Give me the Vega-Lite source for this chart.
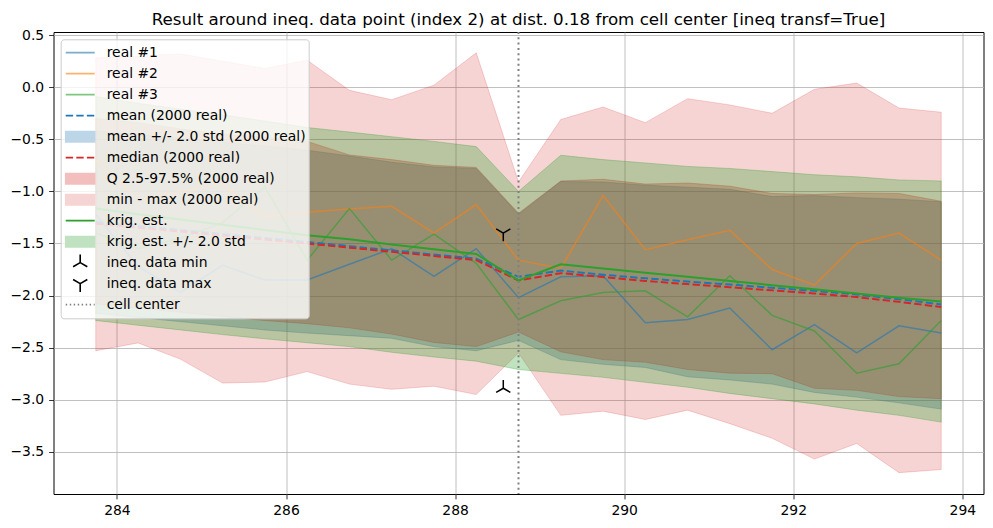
{
  "$schema": "https://vega.github.io/schema/vega-lite/v6.json",
  "width": 930,
  "height": 462,
  "autosize": {"type": "none"},
  "padding": {"left": 53.5, "top": 32, "right": 9.5, "bottom": 34},
  "title": {
    "text": "Result around ineq. data point (index 2) at dist. 0.18 from cell center [ineq transf=True]",
    "font": "DejaVu Sans", "fontSize": 16.7, "fontWeight": "normal", "color": "black",
    "anchor": "middle", "frame": "group", "baseline": "alphabetic", "offset": 8, "dy": 22
  },
  "config": {
    "font": "DejaVu Sans",
    "view": {"stroke": "black", "strokeWidth": 1},
    "axis": {
      "grid": true, "gridColor": "#b0b0b0", "gridWidth": 0.8, "domain": false,
      "tickColor": "black", "tickSize": 4.9, "tickWidth": 0.8,
      "labelFont": "DejaVu Sans", "labelFontSize": 13.9, "labelColor": "black", "labelPadding": 4.9,
      "title": null, "zindex": 1
    }
  },
  "datasets": {
    "main": [
      {"x": 283.75, "r1": -1.22, "r2": -0.70, "r3": -1.40, "mean": -1.295, "median": -1.31, "mlo": -2.17, "mhi": -0.42, "qlo": -2.08, "qhi": -0.30, "mnlo": -2.53, "mnhi": 0.28, "kest": -1.165, "klo": -2.24, "khi": -0.09},
      {"x": 284.25, "r1": -1.72, "r2": -1.08, "r3": -1.55, "mean": -1.333, "median": -1.348, "mlo": -2.21, "mhi": -0.455, "qlo": -2.12, "qhi": -0.34, "mnlo": -2.455, "mnhi": 0.30, "kest": -1.22, "klo": -2.285, "khi": -0.155},
      {"x": 284.75, "r1": -1.97, "r2": -1.00, "r3": -1.45, "mean": -1.371, "median": -1.386, "mlo": -2.25, "mhi": -0.49, "qlo": -2.16, "qhi": -0.40, "mnlo": -2.61, "mnhi": 0.32, "kest": -1.27, "klo": -2.33, "khi": -0.21},
      {"x": 285.25, "r1": -1.71, "r2": -0.93, "r3": -1.30, "mean": -1.41, "median": -1.425, "mlo": -2.29, "mhi": -0.53, "qlo": -2.20, "qhi": -0.45, "mnlo": -2.84, "mnhi": 0.25, "kest": -1.32, "klo": -2.375, "khi": -0.265},
      {"x": 285.75, "r1": -1.85, "r2": -1.245, "r3": -0.957, "mean": -1.448, "median": -1.463, "mlo": -2.33, "mhi": -0.565, "qlo": -2.24, "qhi": -0.48, "mnlo": -2.83, "mnhi": 0.18, "kest": -1.37, "klo": -2.415, "khi": -0.325},
      {"x": 286.25, "r1": -1.85, "r2": -1.20, "r3": -1.66, "mean": -1.486, "median": -1.50, "mlo": -2.36, "mhi": -0.605, "qlo": -2.27, "qhi": -0.52, "mnlo": -2.73, "mnhi": 0.26, "kest": -1.42, "klo": -2.453, "khi": -0.387},
      {"x": 286.75, "r1": -1.70, "r2": -1.17, "r3": -1.165, "mean": -1.526, "median": -1.54, "mlo": -2.385, "mhi": -0.66, "qlo": -2.31, "qhi": -0.65, "mnlo": -2.85, "mnhi": -0.03, "kest": -1.46, "klo": -2.49, "khi": -0.43},
      {"x": 287.25, "r1": -1.55, "r2": -1.143, "r3": -1.66, "mean": -1.566, "median": -1.58, "mlo": -2.41, "mhi": -0.72, "qlo": -2.37, "qhi": -0.695, "mnlo": -2.90, "mnhi": -0.12, "kest": -1.51, "klo": -2.545, "khi": -0.475},
      {"x": 287.75, "r1": -1.815, "r2": -1.40, "r3": -1.41, "mean": -1.606, "median": -1.62, "mlo": -2.49, "mhi": -0.765, "qlo": -2.45, "qhi": -0.75, "mnlo": -2.87, "mnhi": 0.02, "kest": -1.555, "klo": -2.59, "khi": -0.52},
      {"x": 288.25, "r1": -1.55, "r2": -1.127, "r3": -1.69, "mean": -1.646, "median": -1.66, "mlo": -2.53, "mhi": -0.78, "qlo": -2.49, "qhi": -0.77, "mnlo": -2.95, "mnhi": 0.33, "kest": -1.60, "klo": -2.63, "khi": -0.57},
      {"x": 288.75, "r1": -2.02, "r2": -1.66, "r3": -2.23, "mean": -1.82, "median": -1.855, "mlo": -2.43, "mhi": -1.22, "qlo": -2.35, "qhi": -1.21, "mnlo": -2.55, "mnhi": -0.91, "kest": -1.855, "klo": -2.71, "khi": -1.0},
      {"x": 289.25, "r1": -1.82, "r2": -1.74, "r3": -2.05, "mean": -1.76, "median": -1.785, "mlo": -2.615, "mhi": -0.905, "qlo": -2.54, "qhi": -0.90, "mnlo": -3.15, "mnhi": -0.31, "kest": -1.70, "klo": -2.747, "khi": -0.653},
      {"x": 289.75, "r1": -1.81, "r2": -1.04, "r3": -1.97, "mean": -1.80, "median": -1.822, "mlo": -2.66, "mhi": -0.91, "qlo": -2.615, "qhi": -0.884, "mnlo": -3.11, "mnhi": -0.19, "kest": -1.74, "klo": -2.785, "khi": -0.695},
      {"x": 290.25, "r1": -2.26, "r2": -1.56, "r3": -1.955, "mean": -1.835, "median": -1.86, "mlo": -2.69, "mhi": -0.94, "qlo": -2.64, "qhi": -0.93, "mnlo": -3.19, "mnhi": -0.34, "kest": -1.78, "klo": -2.833, "khi": -0.727},
      {"x": 290.75, "r1": -2.23, "r2": -1.465, "r3": -2.205, "mean": -1.865, "median": -1.89, "mlo": -2.78, "mhi": -0.96, "qlo": -2.71, "qhi": -0.92, "mnlo": -3.10, "mnhi": -0.11, "kest": -1.82, "klo": -2.88, "khi": -0.76},
      {"x": 291.25, "r1": -2.12, "r2": -1.374, "r3": -1.81, "mean": -1.895, "median": -1.92, "mlo": -2.81, "mhi": -0.98, "qlo": -2.745, "qhi": -0.95, "mnlo": -3.23, "mnhi": -0.17, "kest": -1.86, "klo": -2.94, "khi": -0.78},
      {"x": 291.75, "r1": -2.52, "r2": -1.75, "r3": -2.19, "mean": -1.925, "median": -1.95, "mlo": -2.85, "mhi": -1.05, "qlo": -2.75, "qhi": -1.02, "mnlo": -3.37, "mnhi": -0.25, "kest": -1.90, "klo": -2.99, "khi": -0.81},
      {"x": 292.25, "r1": -2.28, "r2": -1.90, "r3": -2.34, "mean": -1.955, "median": -1.98, "mlo": -2.93, "mhi": -1.04, "qlo": -2.89, "qhi": -1.03, "mnlo": -3.57, "mnhi": -0.02, "kest": -1.94, "klo": -3.04, "khi": -0.84},
      {"x": 292.75, "r1": -2.55, "r2": -1.50, "r3": -2.745, "mean": -1.99, "median": -2.015, "mlo": -2.975, "mhi": -1.06, "qlo": -2.91, "qhi": -1.015, "mnlo": -3.42, "mnhi": 0.04, "kest": -1.98, "klo": -3.10, "khi": -0.86},
      {"x": 293.25, "r1": -2.29, "r2": -1.40, "r3": -2.655, "mean": -2.035, "median": -2.06, "mlo": -3.03, "mhi": -1.075, "qlo": -2.97, "qhi": -1.02, "mnlo": -3.70, "mnhi": -0.20, "kest": -2.02, "klo": -3.15, "khi": -0.89},
      {"x": 293.75, "r1": -2.36, "r2": -1.66, "r3": -2.24, "mean": -2.085, "median": -2.11, "mlo": -3.09, "mhi": -1.10, "qlo": -2.99, "qhi": -1.095, "mnlo": -3.67, "mnhi": -0.24, "kest": -2.056, "klo": -3.215, "khi": -0.90}
    ],
    "ineqmin": [{"x": 288.57, "y": -2.89}],
    "ineqmax": [{"x": 288.57, "y": -1.40}],
    "cell": [{"x": 288.75}]
  },
  "layer": [
    {
      "data": {"name": "main"},
      "mark": {"type": "area", "color": "#1f77b4", "fillOpacity": 0.3, "stroke": "#1f77b4", "strokeOpacity": 0.3, "strokeWidth": 1},
      "encoding": {
        "x": {"field": "x", "type": "quantitative", "scale": {"domain": [283.25, 294.25], "nice": false, "zero": false},
              "axis": {"values": [284, 286, 288, 290, 292, 294], "format": "d"}},
        "y": {"field": "mlo", "type": "quantitative", "scale": {"domain": [-3.905, 0.53], "nice": false, "zero": false},
              "axis": {"values": [-3.5, -3.0, -2.5, -2.0, -1.5, -1.0, -0.5, 0.0, 0.5], "format": ".1f"}},
        "y2": {"field": "mhi"}
      }
    },
    {
      "data": {"name": "main"},
      "mark": {"type": "area", "color": "#d62728", "fillOpacity": 0.3, "stroke": "#d62728", "strokeOpacity": 0.3, "strokeWidth": 1},
      "encoding": {
        "x": {"field": "x", "type": "quantitative"},
        "y": {"field": "qlo", "type": "quantitative"},
        "y2": {"field": "qhi"}
      }
    },
    {
      "data": {"name": "main"},
      "mark": {"type": "area", "color": "#d62728", "fillOpacity": 0.2, "stroke": "#d62728", "strokeOpacity": 0.2, "strokeWidth": 1},
      "encoding": {
        "x": {"field": "x", "type": "quantitative"},
        "y": {"field": "mnlo", "type": "quantitative"},
        "y2": {"field": "mnhi"}
      }
    },
    {
      "data": {"name": "main"},
      "mark": {"type": "area", "color": "#2ca02c", "fillOpacity": 0.3, "stroke": "#2ca02c", "strokeOpacity": 0.3, "strokeWidth": 1},
      "encoding": {
        "x": {"field": "x", "type": "quantitative"},
        "y": {"field": "klo", "type": "quantitative"},
        "y2": {"field": "khi"}
      }
    },
    {
      "data": {"name": "main"},
      "mark": {"type": "line", "color": "#1f77b4", "strokeWidth": 1.5, "strokeOpacity": 0.6},
      "encoding": {
        "x": {"field": "x", "type": "quantitative"},
        "y": {"field": "r1", "type": "quantitative"}
      }
    },
    {
      "data": {"name": "main"},
      "mark": {"type": "line", "color": "#ff7f0e", "strokeWidth": 1.5, "strokeOpacity": 0.6},
      "encoding": {
        "x": {"field": "x", "type": "quantitative"},
        "y": {"field": "r2", "type": "quantitative"}
      }
    },
    {
      "data": {"name": "main"},
      "mark": {"type": "line", "color": "#2ca02c", "strokeWidth": 1.5, "strokeOpacity": 0.6},
      "encoding": {
        "x": {"field": "x", "type": "quantitative"},
        "y": {"field": "r3", "type": "quantitative"}
      }
    },
    {
      "data": {"name": "main"},
      "mark": {"type": "line", "strokeWidth": 2, "strokeDash": [7.4, 3.2]},
      "encoding": {
        "x": {"field": "x", "type": "quantitative"},
        "y": {"field": "mean", "type": "quantitative"},
        "color": {
          "datum": "mean (2000 real)", "type": "nominal",
          "scale": {
            "domain": ["real #1", "real #2", "real #3", "mean (2000 real)", "mean +/- 2.0 std (2000 real)", "median (2000 real)", "Q 2.5-97.5% (2000 real)", "min - max (2000 real)", "krig. est.", "krig. est. +/- 2.0 std", "ineq. data min", "ineq. data max", "cell center"],
            "range": ["#79add2", "#ffb26e", "#80c680", "#1f77b4", "#bcd6e8", "#d62728", "#f3bebe", "#f7d4d4", "#2ca02c", "#c0e2c0", "#000000", "#000000", "#808080"]
          },
          "legend": {
            "title": null, "orient": "none", "legendX": 7.2, "legendY": 7.3,
            "padding": 3, "fillColor": "rgba(255,255,255,0.8)", "strokeColor": "#cccccc", "cornerRadius": 3,
            "symbolSize": 841, "symbolStrokeWidth": 1.6, "symbolOpacity": 1, "symbolOffset": 1, "labelOffset": 11,
            "clipHeight": 20.7, "rowPadding": 0, "symbolLimit": 0,
            "labelFont": "DejaVu Sans", "labelFontSize": 13.9, "labelColor": "black", "labelLimit": 400
          }
        }
      }
    },
    {
      "data": {"name": "main"},
      "mark": {"type": "line", "strokeWidth": 2, "strokeDash": [7.4, 3.2]},
      "encoding": {
        "x": {"field": "x", "type": "quantitative"},
        "y": {"field": "median", "type": "quantitative"},
        "color": {"datum": "median (2000 real)", "type": "nominal"}
      }
    },
    {
      "data": {"name": "main"},
      "mark": {"type": "line", "strokeWidth": 2},
      "encoding": {
        "x": {"field": "x", "type": "quantitative"},
        "y": {"field": "kest", "type": "quantitative"},
        "color": {"datum": "krig. est.", "type": "nominal"}
      }
    },
    {
      "data": {"name": "ineqmin"},
      "mark": {"type": "point", "filled": true, "stroke": "#000000", "size": 841, "strokeWidth": 1.5, "opacity": 1},
      "encoding": {
        "x": {"field": "x", "type": "quantitative"},
        "y": {"field": "y", "type": "quantitative"},
        "color": {"datum": "ineq. data min", "type": "nominal"},
        "shape": {
          "datum": "ineq. data min", "type": "nominal",
          "scale": {
            "domain": ["real #1", "real #2", "real #3", "mean (2000 real)", "mean +/- 2.0 std (2000 real)", "median (2000 real)", "Q 2.5-97.5% (2000 real)", "min - max (2000 real)", "krig. est.", "krig. est. +/- 2.0 std", "ineq. data min", "ineq. data max", "cell center"],
            "range": [
              "M-1,0L1,0", "M-1,0L1,0", "M-1,0L1,0",
              "M-1,0L-0.49,0M-0.27,0L0.24,0M0.46,0L0.97,0",
              "M-1,-0.36L1,-0.36L1,0.36L-1,0.36Z",
              "M-1,0L-0.49,0M-0.27,0L0.24,0M0.46,0L0.97,0",
              "M-1,-0.36L1,-0.36L1,0.36L-1,0.36Z",
              "M-1,-0.36L1,-0.36L1,0.36L-1,0.36Z",
              "M-1,0L1,0",
              "M-1,-0.36L1,-0.36L1,0.36L-1,0.36Z",
              "M0,0L0,-0.57M0,0L-0.49,0.285M0,0L0.49,0.285",
              "M0,0L0,0.57M0,0L-0.49,-0.285M0,0L0.49,-0.285",
              "M-1,0L-0.9,0M-0.72,0L-0.62,0M-0.45,0L-0.35,0M-0.17,0L-0.07,0M0.1,0L0.2,0M0.38,0L0.48,0M0.65,0L0.75,0M0.93,0L1,0"
            ]
          }
        }
      }
    },
    {
      "data": {"name": "ineqmax"},
      "mark": {"type": "point", "filled": true, "stroke": "#000000", "size": 841, "strokeWidth": 1.5, "opacity": 1},
      "encoding": {
        "x": {"field": "x", "type": "quantitative"},
        "y": {"field": "y", "type": "quantitative"},
        "color": {"datum": "ineq. data max", "type": "nominal"},
        "shape": {"datum": "ineq. data max", "type": "nominal"}
      }
    },
    {
      "data": {"name": "cell"},
      "mark": {"type": "rule", "strokeWidth": 2, "strokeDash": [2, 3.3]},
      "encoding": {
        "x": {"field": "x", "type": "quantitative"},
        "color": {"datum": "cell center", "type": "nominal"}
      }
    }
  ]
}
